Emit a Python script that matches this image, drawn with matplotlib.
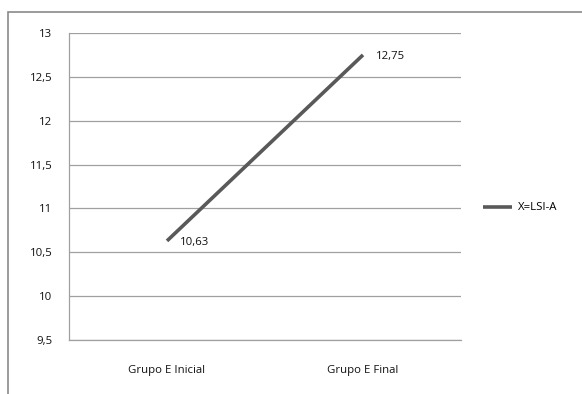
import matplotlib
matplotlib.use("Agg")
import matplotlib.pyplot as plt
from matplotlib.patches import Rectangle

categories = ["Grupo E Inicial", "Grupo E Final"]
values = [10.63, 12.75]
value_labels = ["10,63", "12,75"]
series_name = "X=LSI-A"
yticks = [9.5, 10, 10.5, 11, 11.5, 12, 12.5, 13]
ytick_labels = ["9,5", "10", "10,5", "11", "11,5", "12", "12,5", "13"]

plt.rcParams['font.family'] = ['Open Sans', 'DejaVu Sans']

W, H = 582, 394
fig = plt.figure(figsize=(W/100, H/100), dpi=100)
# outer frame
fig.patches.append(Rectangle((8/W, -0.05), 1.1, 1 - 12/H + 0.05, transform=fig.transFigure,
                             fill=False, edgecolor="#8a8a8a", linewidth=1.2))

fs = 8.2
tc = "#111111"
ax = fig.add_axes([69/W, 1 - 340/H, (461-69)/W, (340-33)/H])
x = list(range(len(categories)))
line, = ax.plot(x, values, color="#595959", linewidth=2.6, solid_capstyle="butt", label=series_name)
for xi, v, lab in zip(x, values, value_labels):
    ax.annotate(lab, (xi, v), xytext=(9, -1), textcoords="offset points",
                ha="left", va="center", fontsize=fs, color=tc)

ax.set_xlim(-0.5, 1.5)
ax.set_ylim(9.5, 13)
ax.set_yticks(yticks)
ax.set_yticklabels(ytick_labels, fontsize=fs, color=tc)
ax.set_xticks(x)
ax.set_xticklabels(categories, fontsize=fs, color=tc)
ax.tick_params(length=0)
ax.tick_params(axis='y', pad=12)
ax.tick_params(axis='x', pad=18)
ax.grid(axis='y', color="#a0a0a0", linewidth=0.9)
ax.set_axisbelow(True)
for s in ["top", "right"]:
    ax.spines[s].set_visible(False)
for s in ["left", "bottom"]:
    ax.spines[s].set_color("#a0a0a0")
    ax.spines[s].set_linewidth(0.9)

fig.legend(handles=[line], labels=[series_name], loc="center left",
           bbox_to_anchor=(478/W, 1 - 208/H), frameon=False, fontsize=fs,
           handlelength=2.6, handletextpad=0.5, borderaxespad=0)

fig.savefig("out.png", dpi=100)
